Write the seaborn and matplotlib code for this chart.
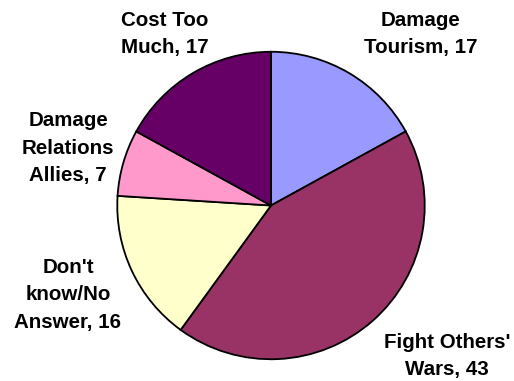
import matplotlib
matplotlib.use("Agg")
import matplotlib.pyplot as plt
import seaborn as sns

# Survey responses: reasons given against the policy
categories = ["Damage\nTourism", "Fight Others'\nWars", "Don't\nknow/No\nAnswer",
              "Damage\nRelations\nAllies", "Cost Too\nMuch"]
values = [17, 43, 16, 7, 17]
colors = ["#9999FF", "#993366", "#FFFFCC", "#FF99CC", "#660066"]

# label anchor points in figure pixels (x from left, y from top)
label_pos = [(421, 34), (447, 356), (68, 295), (68, 148), (165, 34)]

sns.set_theme(style="white")
plt.rcParams["font.family"] = ["Liberation Sans", "DejaVu Sans"]

W, H = 514, 381
fig = plt.figure(figsize=(W / 100, H / 100), dpi=100)
cx, cy, r = 271, 205.5, 154.5
ax = fig.add_axes([(cx - r) / W, (H - cy - r) / H, 2 * r / W, 2 * r / H])

ax.pie(values, colors=colors, startangle=90, counterclock=False,
       wedgeprops=dict(edgecolor="black", linewidth=1.3), radius=1)
ax.set_xlim(-1.005, 1.005)
ax.set_ylim(-1.005, 1.005)
ax.set_aspect("equal")
ax.axis("off")

for cat, val, (px, py) in zip(categories, values, label_pos):
    fig.text(px / W, 1 - py / H, f"{cat}, {val}", ha="center", va="center",
             fontsize=14.8, fontweight="bold", linespacing=1.58, color="black")

fig.savefig("out.png", dpi=100, facecolor="white")
